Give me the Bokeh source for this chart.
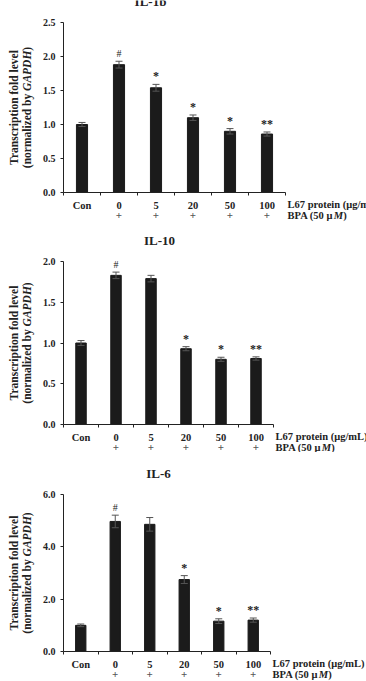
import math

from bokeh.embed import file_html
from bokeh.layouts import column
from bokeh.models import (ColumnDataSource, FixedTicker, Label, LinearAxis,
                          PrintfTickFormatter, Range1d, TeeHead, Whisker)
from bokeh.plotting import figure
from bokeh.resources import INLINE

# ---- data -------------------------------------------------------------
categories = ["Con", "0", "5", "20", "50", "100"]
bpa_marks = ["", "+", "+", "+", "+", "+"]

il1b_mean = [1.00, 1.88, 1.54, 1.10, 0.90, 0.86]
il1b_err = [0.03, 0.05, 0.05, 0.04, 0.04, 0.03]
il1b_sig = ["", "#", "*", "*", "*", "**"]
il1b_ticks = [0.0, 0.5, 1.0, 1.5, 2.0, 2.5]

il10_mean = [1.00, 1.83, 1.79, 0.93, 0.80, 0.81]
il10_err = [0.03, 0.04, 0.04, 0.025, 0.025, 0.02]
il10_sig = ["", "#", "", "*", "*", "**"]
il10_ticks = [0.0, 0.5, 1.0, 1.5, 2.0]

il6_mean = [1.00, 4.97, 4.86, 2.75, 1.16, 1.20]
il6_err = [0.05, 0.24, 0.26, 0.15, 0.09, 0.08]
il6_sig = ["", "#", "", "*", "*", "**"]
il6_ticks = [0.0, 2.0, 4.0, 6.0]

# ---- styling ----------------------------------------------------------
SERIF = "Liberation Serif"
INK = "#222222"
BAR = "#1b1b1b"
ERR = "#555555"

AXIS_LABEL_PX = 11.5
ROW_PX = 10.5
WIDTH = 366
LEFT = 63


def lbl(p, text, x, y, dx=0, dy=0, size=10.5, style="bold", align="center",
        baseline="middle", angle=0.0, color=INK):
    p.add_layout(Label(x=x, y=y, x_offset=dx, y_offset=dy, text=text,
                       text_font=SERIF, text_font_size=f"{size}px",
                       text_font_style=style, text_align=align,
                       text_baseline=baseline, angle=angle, text_color=color))


def panel(title, means, errs, sigs, ticks, height, top, bottom, right, title_dx):
    n = len(categories)
    ytop = ticks[-1]
    # the plotting frame spans the whole canvas; axes sit at fixed locations
    px_x = (WIDTH - LEFT - right) / n
    px_y = (height - top - bottom) / ytop
    p = figure(width=WIDTH, height=height,
               x_range=Range1d(-0.5 - LEFT / px_x, n - 0.5 + right / px_x),
               y_range=Range1d(-bottom / px_y, ytop + top / px_y),
               x_axis_type=None, y_axis_type=None,
               output_backend="svg", toolbar_location=None,
               min_border=0, min_border_left=0, min_border_right=0,
               min_border_top=0, min_border_bottom=0)
    p.outline_line_color = None
    p.grid.visible = False
    p.background_fill_color = "white"
    p.border_fill_color = "white"

    xs = list(range(n))
    src = ColumnDataSource(dict(
        x=xs, top=means,
        upper=[m + e for m, e in zip(means, errs)],
        lower=[m - e for m, e in zip(means, errs)],
    ))
    p.vbar(x="x", top="top", width=0.3, source=src,
           fill_color=BAR, line_color=BAR)

    w = Whisker(base="x", upper="upper", lower="lower", source=src,
                level="overlay", line_color=ERR, line_width=1,
                upper_head=TeeHead(size=7, line_color=ERR, line_width=1),
                lower_head=TeeHead(size=7, line_color=ERR, line_width=1))
    p.add_layout(w)

    # y axis
    ya = LinearAxis(fixed_location=-0.5, bounds=(0, ytop),
                    ticker=FixedTicker(ticks=ticks),
                    formatter=PrintfTickFormatter(format="%.1f"))
    ya.major_label_text_font = SERIF
    ya.major_label_text_font_style = "bold"
    ya.major_label_text_font_size = "10px"
    ya.major_label_text_color = INK
    ya.major_label_standoff = 5
    ya.major_tick_in = 0
    ya.major_tick_out = 3
    ya.minor_tick_line_color = None
    ya.axis_line_color = INK
    ya.major_tick_line_color = INK
    p.add_layout(ya, "left")

    # x axis: group names at the centres, short ticks between groups
    xa = LinearAxis(fixed_location=0, bounds=(-0.5, n - 0.5),
                    ticker=FixedTicker(ticks=xs,
                                       minor_ticks=[i - 0.5 for i in range(n + 1)]))
    xa.major_label_overrides = {i: c for i, c in enumerate(categories)}
    xa.major_label_text_font = SERIF
    xa.major_label_text_font_style = "bold"
    xa.major_label_text_font_size = f"{ROW_PX}px"
    xa.major_label_text_color = INK
    xa.major_label_standoff = 4
    xa.major_tick_in = 0
    xa.major_tick_out = 0
    xa.major_tick_line_color = None
    xa.minor_tick_in = 0
    xa.minor_tick_out = 3
    xa.minor_tick_line_color = INK
    xa.axis_line_color = INK
    p.add_layout(xa, "below")

    # title
    lbl(p, title, -0.5, ytop, dx=title_dx, dy=21, size=13)

    # significance marks
    for i, s in enumerate(sigs):
        if s:
            big = s != "#"
            lbl(p, s, i, means[i] + errs[i], dy=2 if not big else 1,
                size=12 if big else 10, baseline="bottom",
                style="bold" if big else "normal")

    # BPA row and the row captions to the right of the axis
    for i, s in enumerate(bpa_marks):
        if s:
            lbl(p, s, i, 0, dy=-22.5, size=11, style="bold", color="#555555")
    xend = n - 0.5
    lbl(p, "L67 protein (μg/mL)", xend, 0, dx=2, dy=-11.5, size=ROW_PX, align="left")
    w_a = 4.409 * ROW_PX
    w_m = 0.889 * ROW_PX
    lbl(p, "BPA (50 μ", xend, 0, dx=2, dy=-22.5, size=ROW_PX, align="left")
    lbl(p, "M", xend, 0, dx=2 + w_a, dy=-22.5, size=ROW_PX, align="left",
        style="bold italic")
    lbl(p, ")", xend, 0, dx=2 + w_a + w_m, dy=-22.5, size=ROW_PX, align="left")

    # rotated y-axis title, two lines
    ymid = ytop / 2
    lbl(p, "Transcription fold level", -0.5, ymid, dx=-50, size=AXIS_LABEL_PX,
        angle=math.pi / 2)
    w1 = 6.722 * AXIS_LABEL_PX
    w2 = 3.500 * AXIS_LABEL_PX
    w3 = 0.333 * AXIS_LABEL_PX
    start = -(w1 + w2 + w3) / 2
    lbl(p, "(normalized by ", -0.5, ymid, dx=-37, dy=start, size=AXIS_LABEL_PX,
        angle=math.pi / 2, align="left")
    lbl(p, "GAPDH", -0.5, ymid, dx=-37, dy=start + w1, size=AXIS_LABEL_PX,
        angle=math.pi / 2, align="left", style="bold italic")
    lbl(p, ")", -0.5, ymid, dx=-37, dy=start + w1 + w2, size=AXIS_LABEL_PX,
        angle=math.pi / 2, align="left")
    return p


p1 = panel("IL-1b", il1b_mean, il1b_err, il1b_sig, il1b_ticks,
           height=224, top=22, bottom=32, right=81, title_dx=87)
p2 = panel("IL-10", il10_mean, il10_err, il10_sig, il10_ticks,
           height=228, top=37, bottom=28, right=93, title_dx=96)
p3 = panel("IL-6", il6_mean, il6_err, il6_sig, il6_ticks,
           height=229, top=42, bottom=30, right=96, title_dx=95)

layout = column(p1, p2, p3, spacing=0)

with open("out.html", "w") as f:
    f.write(file_html(layout, INLINE))
